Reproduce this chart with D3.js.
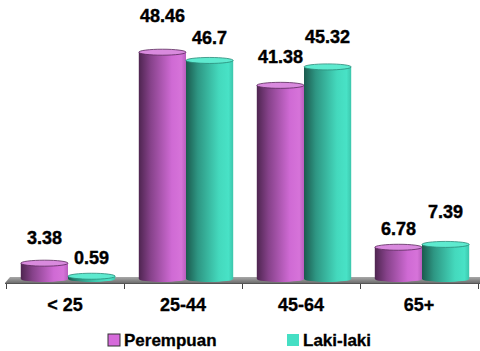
<!DOCTYPE html>
<html><head><meta charset="utf-8">
<script src="https://cdn.jsdelivr.net/npm/d3@7/dist/d3.min.js"></script>
<style>body{margin:0;background:#fff}svg{display:block}</style>
</head><body>
<svg id="c" width="480" height="351"></svg>
<script>
const categories = ["< 25", "25-44", "45-64", "65+"];
const seriesNames = ["Perempuan", "Laki-laki"];
const perempuan = [3.38, 48.46, 41.38, 6.78];
const lakiLaki = [0.59, 46.7, 45.32, 7.39];
const labelLift = [[19, 12], [30, 16], [22, 24], [12, 26]]; // label gap above bar tops (layout only)

const svg = d3.select("#c");
const base = 279;
const x = d3.scaleBand().domain(categories).range([6, 478]).paddingInner(0).paddingOuter(0);
const xb = d3.scaleBand().domain(categories).range([9, 481]).paddingInner(0.2).paddingOuter(0.1);
const xs = d3.scaleBand().domain(seriesNames).range([0, xb.bandwidth()]).padding(0);
const y = d3.scaleLinear().domain([0, 50]).range([base, 45]);

const defs = svg.append("defs");
function grad(id, stops) {
  const g = defs.append("linearGradient").attr("id", id).attr("x1", 0).attr("x2", 1).attr("y1", 0).attr("y2", 0);
  stops.forEach(s => g.append("stop").attr("offset", s[0]).attr("stop-color", s[1]));
}
grad("gP", [[0, "#4e2550"], [0.25, "#86428a"], [0.7, "#cf6ad4"], [0.9, "#d673d9"], [1, "#b85ebd"]]);
grad("gL", [[0, "#1b5a4e"], [0.25, "#2e9683"], [0.7, "#44d9bd"], [0.9, "#48e2c6"], [1, "#3cc6ac"]]);
const colors = {Perempuan: {fill: "url(#gP)", top: "#d98ade", stroke: "#5a2a5c", legend: "#d66bdb"},
                "Laki-laki": {fill: "url(#gL)", top: "#5eeacf", stroke: "#2a8a78", legend: "#45dfc4"}};

// floor
const fg = defs.append("linearGradient").attr("id", "gF").attr("x1", 0).attr("x2", 0).attr("y1", 0).attr("y2", 1);
fg.append("stop").attr("offset", 0).attr("stop-color", "#a8a8a8");
fg.append("stop").attr("offset", 1).attr("stop-color", "#6e6e6e");
svg.append("path").attr("d", `M10,${base - 2}L480,${base - 2}L480,${base + 4}L5,${base + 4}Z`).attr("fill", "url(#gF)");
svg.append("line").attr("x1", 5).attr("x2", 480).attr("y1", base + 4.5).attr("y2", base + 4.5).attr("stroke", "#555").attr("stroke-width", 1);

// ticks at band boundaries
const edges = categories.map(c => x(c)).concat([x(categories[categories.length - 1]) + x.bandwidth()]);
svg.selectAll("line.tk").data(edges).join("line").attr("class", "tk")
  .attr("x1", d => Math.round(d) + 0.5).attr("x2", d => Math.round(d) + 0.5)
  .attr("y1", base + 5).attr("y2", base + 10).attr("stroke", "#444");

// category labels via axis
const ax = svg.append("g").attr("transform", `translate(0,${base + 5})`)
  .call(d3.axisBottom(x).tickSize(0).tickPadding(14));
ax.select(".domain").remove();
ax.selectAll("text").attr("font-family", "Liberation Sans, Arial, sans-serif").attr("font-weight", "bold")
  .attr("font-size", 18).attr("fill", "#000").attr("dy", "0.71em")
  .attr("stroke", "#000").attr("stroke-width", 0.3);

// bars
const data = [];
categories.forEach((c, i) => {
  data.push({c, s: "Perempuan", v: perempuan[i], lift: labelLift[i][0]});
  data.push({c, s: "Laki-laki", v: lakiLaki[i], lift: labelLift[i][1]});
});
const ry = 3;
const g = svg.append("g");
data.forEach(d => {
  const x0 = xb(d.c) + xs(d.s), w = xs.bandwidth(), cx = x0 + w / 2, yt = y(d.v);
  const col = colors[d.s];
  g.append("path")
    .attr("d", `M${x0},${yt}L${x0},${base}A${w / 2},${ry} 0 0 0 ${x0 + w},${base}L${x0 + w},${yt}Z`)
    .attr("fill", col.fill);
  g.append("ellipse").attr("cx", cx).attr("cy", yt).attr("rx", w / 2).attr("ry", ry)
    .attr("fill", col.top).attr("stroke", col.stroke).attr("stroke-width", 0.8);
});

// value labels
svg.selectAll("text.val").data(data).join("text").attr("class", "val")
  .attr("x", d => xb(d.c) + xs(d.s) + xs.bandwidth() / 2)
  .attr("y", d => y(d.v) - d.lift)
  .attr("text-anchor", "middle")
  .attr("font-family", "Liberation Sans, Arial, sans-serif").attr("font-weight", "bold")
  .attr("font-size", 18).attr("fill", "#000")
  .attr("stroke", "#000").attr("stroke-width", 0.4)
  .text(d => d.v);

// legend
const leg = svg.append("g");
const legX = [108, 287];
seriesNames.forEach((s, i) => {
  leg.append("rect").attr("x", legX[i]).attr("y", 334).attr("width", 12).attr("height", 12)
    .attr("fill", colors[s].legend).attr("stroke", i === 0 ? "#333" : "none").attr("stroke-width", 1);
  leg.append("text").attr("x", legX[i] + 16).attr("y", 346).text(s)
    .attr("font-family", "Liberation Sans, Arial, sans-serif").attr("font-weight", "bold")
    .attr("font-size", 17).attr("fill", "#000")
    .attr("stroke", "#000").attr("stroke-width", 0.3);
});
</script>
</body></html>
